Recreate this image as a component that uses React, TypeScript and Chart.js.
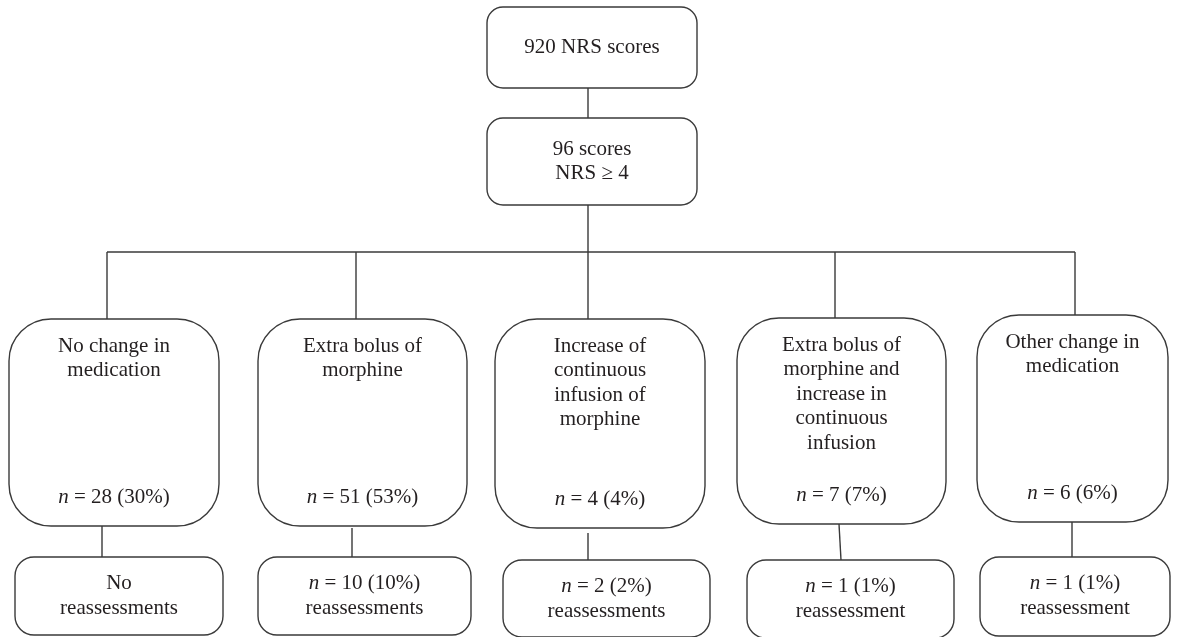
import React, { useEffect, useRef } from "react";
import { Chart, registerables } from "chart.js";

Chart.register(...registerables);

// ---------- DATA ----------
const topLabels: string[][] = [["920 NRS scores"], ["96 scores", "NRS \u2265 4"]];
const categories: string[][] = [
  ["No change in", "medication"],
  ["Extra bolus of", "morphine"],
  ["Increase of", "continuous", "infusion of", "morphine"],
  ["Extra bolus of", "morphine and", "increase in", "continuous", "infusion"],
  ["Other change in", "medication"],
];
const categoryCounts = [28, 51, 4, 7, 6];
const categoryPercents = [30, 53, 4, 7, 6];
const reassessCounts = [0, 10, 2, 1, 1];
const reassessPercents = [0, 10, 2, 1, 1];

// ---------- LAYOUT (diagram coordinates, in axis units) ----------
type Box = { x0: number; y0: number; x1: number; y1: number; r: number };
const topBoxes: Box[] = [
  { x0: 487, y0: 7, x1: 697, y1: 88, r: 16 },
  { x0: 487, y0: 118, x1: 697, y1: 205, r: 16 },
];
const catBoxes: Box[] = [
  { x0: 9, y0: 319, x1: 219, y1: 526, r: 42 },
  { x0: 258, y0: 319, x1: 467, y1: 526, r: 42 },
  { x0: 495, y0: 319, x1: 705, y1: 528, r: 42 },
  { x0: 737, y0: 318, x1: 946, y1: 524, r: 42 },
  { x0: 977, y0: 315, x1: 1168, y1: 522, r: 42 },
];
const reBoxes: Box[] = [
  { x0: 15, y0: 557, x1: 223, y1: 635, r: 19 },
  { x0: 258, y0: 557, x1: 471, y1: 635, r: 19 },
  { x0: 503, y0: 560, x1: 710, y1: 637, r: 19 },
  { x0: 747, y0: 560, x1: 954, y1: 638, r: 19 },
  { x0: 980, y0: 557, x1: 1170, y1: 636, r: 19 },
];
const trunkX = 588;
const branchY = 252;
const branchXs = [107, 356, 588, 835, 1075];
const lowerTopXs = [102, 352, 588, 839, 1072];
const lowerTopYs = [526, 528, 533, 524, 522];
const lowerBotXs = [102, 352, 588, 841, 1072];

const LINE = "#3a3a3a";
const TEXT = "#231f20";
const FONT = '"Liberation Serif", "DejaVu Serif", serif';
const FS = 21;
const LH = 24.5;

function seg(a: [number, number], b: [number, number]) {
  return {
    type: "line" as const,
    data: [
      { x: a[0], y: a[1] },
      { x: b[0], y: b[1] },
    ],
    showLine: true,
    borderColor: LINE,
    borderWidth: 1.4,
    pointRadius: 0,
    fill: false,
  };
}

function buildDatasets() {
  const ds: any[] = [];
  ds.push(seg([trunkX, topBoxes[0].y1], [trunkX, topBoxes[1].y0]));
  ds.push(seg([trunkX, topBoxes[1].y1], [trunkX, branchY]));
  ds.push(seg([branchXs[0], branchY], [branchXs[branchXs.length - 1], branchY]));
  branchXs.forEach((bx, i) => ds.push(seg([bx, branchY], [bx, catBoxes[i].y0])));
  lowerTopXs.forEach((lx, i) =>
    ds.push(seg([lx, lowerTopYs[i]], [lowerBotXs[i], reBoxes[i].y0]))
  );
  return ds;
}

function countLine(n: number, p: number) {
  return `n = ${n} (${p}%)`;
}

export default function App() {
  const ref = useRef<HTMLCanvasElement | null>(null);

  useEffect(() => {
    document.body.style.margin = "0";
    const canvas = ref.current!;
    const boxesPlugin = {
      id: "flowBoxes",
      afterDatasetsDraw(chart: any) {
        const ctx: CanvasRenderingContext2D = chart.ctx;
        const xs = chart.scales.x;
        const ys = chart.scales.y;
        const px = (v: number) => xs.getPixelForValue(v);
        const py = (v: number) => ys.getPixelForValue(v);

        const drawBox = (b: Box) => {
          const x0 = px(b.x0), x1 = px(b.x1), y0 = py(b.y0), y1 = py(b.y1);
          const r = b.r;
          ctx.save();
          ctx.beginPath();
          ctx.moveTo(x0 + r, y0);
          ctx.arcTo(x1, y0, x1, y1, r);
          ctx.arcTo(x1, y1, x0, y1, r);
          ctx.arcTo(x0, y1, x0, y0, r);
          ctx.arcTo(x0, y0, x1, y0, r);
          ctx.closePath();
          ctx.strokeStyle = LINE;
          ctx.lineWidth = 1.4;
          ctx.stroke();
          ctx.restore();
        };

        const drawLine = (text: string, cx: number, cy: number) => {
          ctx.save();
          ctx.fillStyle = TEXT;
          ctx.textBaseline = "middle";
          if (text.startsWith("n = ")) {
            const rest = text.slice(1);
            ctx.font = `italic ${FS}px ${FONT}`;
            const w1 = ctx.measureText("n").width;
            ctx.font = `${FS}px ${FONT}`;
            const w2 = ctx.measureText(rest).width;
            const start = px(cx) - (w1 + w2) / 2;
            ctx.textAlign = "left";
            ctx.font = `italic ${FS}px ${FONT}`;
            ctx.fillText("n", start, py(cy));
            ctx.font = `${FS}px ${FONT}`;
            ctx.fillText(rest, start + w1, py(cy));
          } else {
            ctx.font = `${FS}px ${FONT}`;
            ctx.textAlign = "center";
            ctx.fillText(text, px(cx), py(cy));
          }
          ctx.restore();
        };

        topBoxes.forEach((b, i) => {
          drawBox(b);
          const lines = topLabels[i];
          const cx = (b.x0 + b.x1) / 2;
          const cy = (b.y0 + b.y1) / 2;
          lines.forEach((t, k) => drawLine(t, cx, cy + (k - (lines.length - 1) / 2) * LH));
        });

        catBoxes.forEach((b, i) => {
          drawBox(b);
          const cx = (b.x0 + b.x1) / 2;
          categories[i].forEach((t, k) => drawLine(t, cx, b.y0 + 27 + k * LH));
          drawLine(countLine(categoryCounts[i], categoryPercents[i]), cx, b.y1 - 29);
        });

        reBoxes.forEach((b, i) => {
          drawBox(b);
          const cx = (b.x0 + b.x1) / 2;
          const c = reassessCounts[i];
          const lines =
            c === 0
              ? ["No", "reassessments"]
              : [countLine(c, reassessPercents[i]), c === 1 ? "reassessment" : "reassessments"];
          lines.forEach((t, k) => drawLine(t, cx, b.y0 + 26 + k * 25));
        });
      },
    };

    const chart = new Chart(canvas, {
      type: "scatter",
      data: { datasets: buildDatasets() },
      options: {
        animation: false,
        responsive: false,
        events: [],
        layout: { padding: 0 },
        plugins: { legend: { display: false }, tooltip: { enabled: false } },
        scales: {
          x: { type: "linear", min: 0, max: 1180, display: false },
          y: { type: "linear", min: 0, max: 637, reverse: true, display: false },
        },
      },
      plugins: [boxesPlugin],
    } as any);
    return () => chart.destroy();
  }, []);

  return (
    <div style={{ width: 1180, height: 637, background: "#fff" }}>
      <canvas ref={ref} width={1180} height={637} style={{ display: "block" }} />
    </div>
  );
}
